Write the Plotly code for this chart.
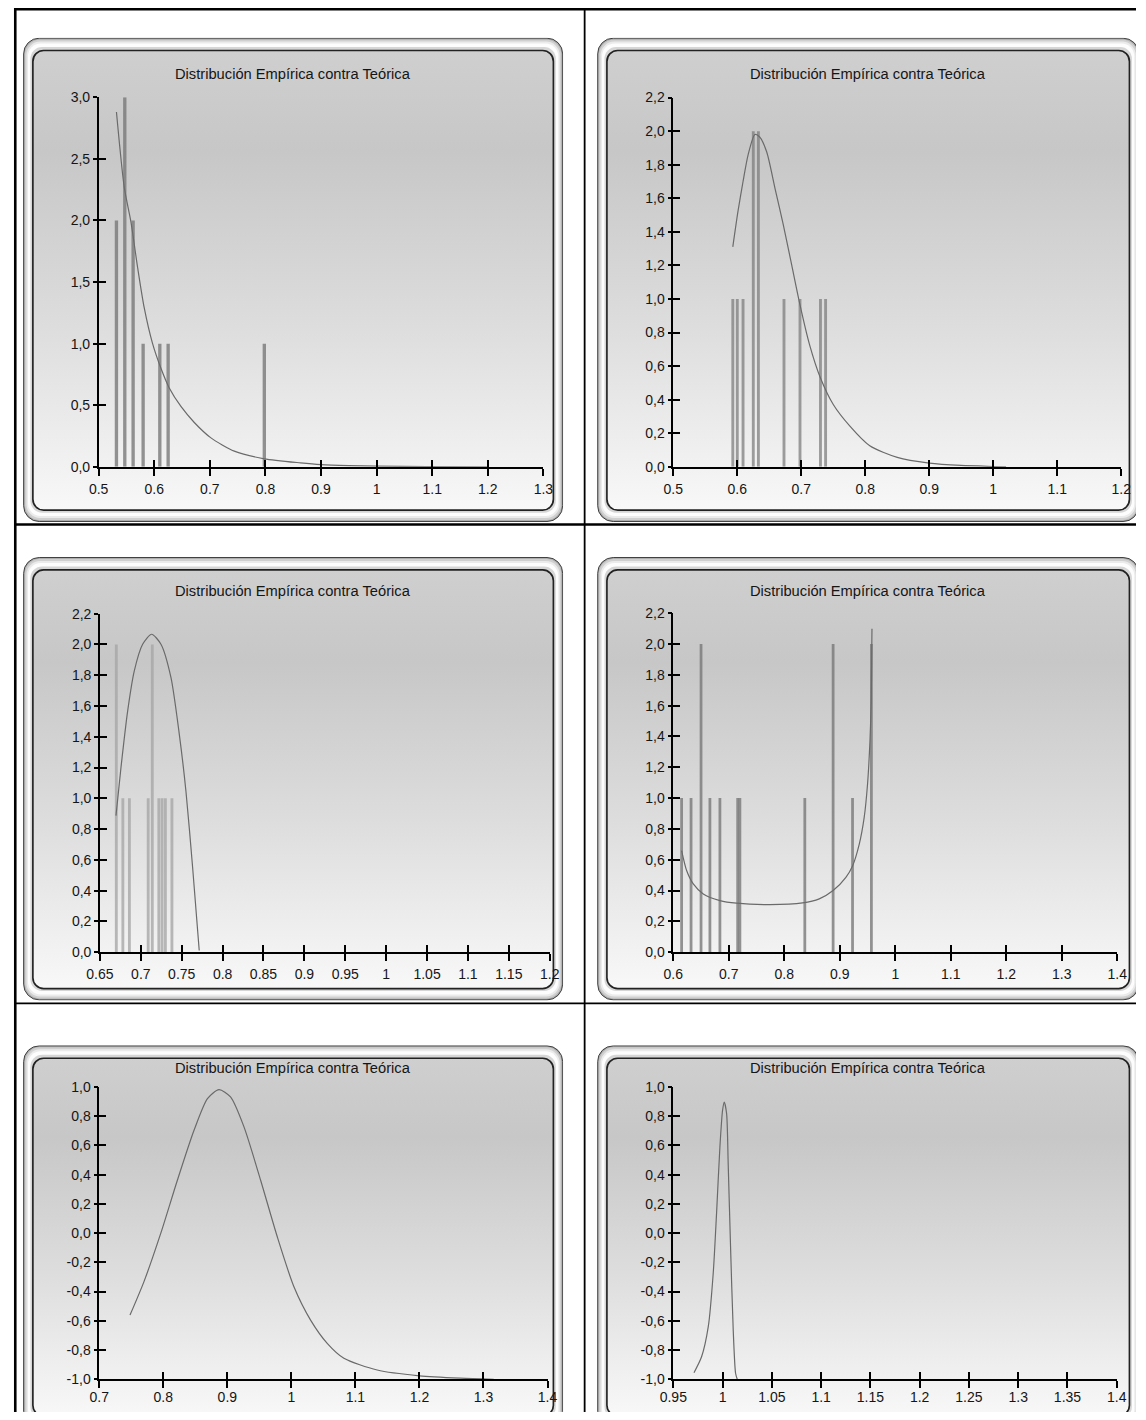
import base64
import plotly.graph_objects as go

W, H = 1146, 1420
TITLE = "Distribución Empírica contra Teórica"
FONT = "Liberation Sans, Arial, sans-serif"

# ---------------- data ----------------
# Panel 1
p1_bar_x = [0.532, 0.547, 0.562, 0.580, 0.610, 0.625, 0.798]
p1_bar_y = [2, 3, 2, 1, 1, 1, 1]
p1_cur_x = [0.532, 0.546, 0.558, 0.570, 0.582, 0.597, 0.612, 0.627, 0.648, 0.672,
            0.702, 0.744, 0.798, 0.863, 0.900, 0.950, 1.000, 1.090, 1.200]
p1_cur_y = [2.88, 2.27, 1.99, 1.62, 1.29, 1.00, 0.80, 0.64, 0.49, 0.36,
            0.235, 0.127, 0.065, 0.032, 0.018, 0.010, 0.006, 0.002, 0.0]
# Panel 2
p2_bar_x = [0.593, 0.600, 0.609, 0.625, 0.633, 0.673, 0.698, 0.730, 0.738]
p2_bar_y = [1, 1, 1, 2, 2, 1, 1, 1, 1]
p2_cur_x = [0.593, 0.601, 0.609, 0.617, 0.6275, 0.635, 0.646, 0.659, 0.672, 0.685,
            0.698, 0.713, 0.730, 0.750, 0.776, 0.807, 0.850, 0.900, 0.950, 1.000, 1.020]
p2_cur_y = [1.31, 1.52, 1.70, 1.86, 1.98, 1.965, 1.876, 1.658, 1.44, 1.203,
            0.965, 0.727, 0.529, 0.371, 0.242, 0.125, 0.056, 0.022, 0.008, 0.002, 0.0]
# Panel 3
p3_bar_x = [0.670, 0.678, 0.686, 0.709, 0.714, 0.722, 0.726, 0.730, 0.738]
p3_bar_y = [2, 1, 1, 1, 2, 1, 1, 1, 1]
p3_cur_x = [0.6696, 0.6757, 0.6839, 0.692, 0.7022, 0.7132, 0.7246, 0.7368,
            0.747, 0.7551, 0.7633, 0.7714]
p3_cur_y = [0.887, 1.20, 1.568, 1.828, 2.001, 2.066, 2.001, 1.785,
            1.417, 1.049, 0.552, 0.011]
# Panel 4
p4_bar_x = [0.615, 0.632, 0.650, 0.666, 0.684, 0.716, 0.720, 0.837, 0.888, 0.923, 0.957]
p4_bar_y = [1, 1, 2, 1, 1, 1, 1, 1, 2, 1, 2]
p4_cur_x = [0.615, 0.624, 0.636, 0.654, 0.684, 0.714, 0.774, 0.833, 0.863, 0.888,
            0.911, 0.923, 0.935, 0.944, 0.950, 0.9544, 0.9567, 0.958]
p4_cur_y = [0.659, 0.53, 0.443, 0.378, 0.335, 0.318, 0.309, 0.32, 0.346, 0.40,
            0.486, 0.56, 0.70, 0.875, 1.09, 1.37, 1.63, 2.1]
# Panel 5
p5_cur_x = [0.748, 0.770, 0.796, 0.822, 0.848, 0.869, 0.887, 0.905, 0.926, 0.952,
            0.978, 1.004, 1.030, 1.056, 1.082, 1.134, 1.200, 1.264, 1.316]
p5_cur_y = [-0.561, -0.330, -0.002, 0.362, 0.704, 0.921, 0.982, 0.932, 0.727, 0.362,
            -0.025, -0.367, -0.595, -0.754, -0.856, -0.937, -0.977, -0.993, -1.0]
# Panel 6
p6_cur_x = [0.9710, 0.9787, 0.9855, 0.9905, 0.9939, 0.9973, 1.0, 1.0017, 1.0041,
            1.0057, 1.0081, 1.0108, 1.0132, 1.0149]
p6_cur_y = [-0.955, -0.846, -0.64, -0.276, 0.135, 0.59, 0.841, 0.897, 0.818,
            0.476, -0.094, -0.663, -0.959, -1.0]

# tick values / labels
x1_ticks = [0.5, 0.6, 0.7, 0.8, 0.9, 1.0, 1.1, 1.2, 1.3]
x1_text = ["0.5", "0.6", "0.7", "0.8", "0.9", "1", "1.1", "1.2", "1.3"]
x2_ticks = [0.5, 0.6, 0.7, 0.8, 0.9, 1.0, 1.1, 1.2]
x2_text = ["0.5", "0.6", "0.7", "0.8", "0.9", "1", "1.1", "1.2"]
x3_ticks = [0.65, 0.7, 0.75, 0.8, 0.85, 0.9, 0.95, 1.0, 1.05, 1.1, 1.15, 1.2]
x3_text = ["0.65", "0.7", "0.75", "0.8", "0.85", "0.9", "0.95", "1", "1.05", "1.1", "1.15", "1.2"]
x4_ticks = [0.6, 0.7, 0.8, 0.9, 1.0, 1.1, 1.2, 1.3, 1.4]
x4_text = ["0.6", "0.7", "0.8", "0.9", "1", "1.1", "1.2", "1.3", "1.4"]
x5_ticks = [0.7, 0.8, 0.9, 1.0, 1.1, 1.2, 1.3, 1.4]
x5_text = ["0.7", "0.8", "0.9", "1", "1.1", "1.2", "1.3", "1.4"]
x6_ticks = [0.95, 1.0, 1.05, 1.1, 1.15, 1.2, 1.25, 1.3, 1.35, 1.4]
x6_text = ["0.95", "1", "1.05", "1.1", "1.15", "1.2", "1.25", "1.3", "1.35", "1.4"]

y1_ticks = [0, 0.5, 1.0, 1.5, 2.0, 2.5, 3.0]
y1_text = ["0,0", "0,5", "1,0", "1,5", "2,0", "2,5", "3,0"]
y2_ticks = [0, 0.2, 0.4, 0.6, 0.8, 1.0, 1.2, 1.4, 1.6, 1.8, 2.0, 2.2]
y2_text = ["0,0", "0,2", "0,4", "0,6", "0,8", "1,0", "1,2", "1,4", "1,6", "1,8", "2,0", "2,2"]
y5_ticks = [-1.0, -0.8, -0.6, -0.4, -0.2, 0, 0.2, 0.4, 0.6, 0.8, 1.0]
y5_text = ["-1,0", "-0,8", "-0,6", "-0,4", "-0,2", "0,0", "0,2", "0,4", "0,6", "0,8", "1,0"]

# ---------------- layout helpers ----------------
# With the page margin removed, the photographed picture maps figure pixels as
#   X_pic = 12.9 + 0.9807 * X_fig,  Y_pic = 6.3 + 0.990 * Y_fig
# so target picture positions are converted back to figure pixels.
SX, OX = 0.9807, 12.9
SY, OY = 0.9900, 6.3


def fx(X):
    return (X - OX) / SX


def fy(Y):
    return (Y - OY) / SY


def px(X):
    return fx(X) / W


def py(Y):
    return 1 - fy(Y) / H


panels = [
    dict(xd=(97.7, 543.2), yd=(95.7, 465.7), xr=(0.5, 1.3), yr=(0, 3.0),
         xt=(x1_ticks, x1_text), yt=(y1_ticks, y1_text), xso=2,
         bars=(p1_bar_x, p1_bar_y), bw=0.006, bc="rgba(118,118,118,0.78)",
         cur=(p1_cur_x, p1_cur_y), frame=(22, 36, 563, 521), ty=72),
    dict(xd=(673.3, 1122.0), yd=(96.0, 465.7), xr=(0.5, 1.2), yr=(0, 2.2),
         xt=(x2_ticks, x2_text), yt=(y2_ticks, y2_text), xso=2,
         bars=(p2_bar_x, p2_bar_y), bw=0.0045, bc="rgba(122,122,122,0.72)",
         cur=(p2_cur_x, p2_cur_y), frame=(597, 36, 1140, 521), ty=72),
    dict(xd=(99.0, 549.5), yd=(612.7, 951.7), xr=(0.65, 1.2), yr=(0, 2.2),
         xt=(x3_ticks, x3_text), yt=(y2_ticks, y2_text), xso=1,
         bars=(p3_bar_x, p3_bar_y), bw=0.0035, bc="rgba(165,165,165,0.78)",
         cur=(p3_cur_x, p3_cur_y), frame=(22, 556, 563, 1000), ty=590),
    dict(xd=(673.3, 1118.0), yd=(612.3, 951.7), xr=(0.6, 1.4), yr=(0, 2.2),
         xt=(x4_ticks, x4_text), yt=(y2_ticks, y2_text), xso=1,
         bars=(p4_bar_x, p4_bar_y), bw=0.005, bc="rgba(118,118,118,0.78)",
         cur=(p4_cur_x, p4_cur_y), frame=(597, 556, 1140, 1000), ty=590),
    dict(xd=(98.3, 547.3), yd=(1086.7, 1379.3), xr=(0.7, 1.4), yr=(-1.0, 1.0),
         xt=(x5_ticks, x5_text), yt=(y5_ticks, y5_text), xso=-3,
         bars=None, cur=(p5_cur_x, p5_cur_y), frame=(22, 1045, 563, 1428), ty=1068),
    dict(xd=(673.3, 1117.5), yd=(1086.7, 1379.3), xr=(0.95, 1.4), yr=(-1.0, 1.0),
         xt=(x6_ticks, x6_text), yt=(y5_ticks, y5_text), xso=-3,
         bars=None, cur=(p6_cur_x, p6_cur_y), frame=(597, 1045, 1140, 1428), ty=1068),
]


def panel_svg(w, h, wv, hv):
    """Rounded bevelled frame of full size w x h, cropped to the visible wv x hv."""
    svg = f'''<svg xmlns="http://www.w3.org/2000/svg" width="{wv:.1f}" height="{hv:.1f}" viewBox="0 0 {wv:.1f} {hv:.1f}" preserveAspectRatio="none">
<defs>
<linearGradient id="g" gradientUnits="userSpaceOnUse" x1="0" y1="13" x2="0" y2="{h-12:.1f}">
<stop offset="0" stop-color="#cfcfcf"/>
<stop offset="0.22" stop-color="#c7c7c7"/>
<stop offset="0.6" stop-color="#dddddd"/>
<stop offset="1" stop-color="#f8f8f8"/>
</linearGradient>
</defs>
<rect x="0.5" y="0.5" width="{w-1:.1f}" height="{h-1:.1f}" rx="16" ry="16" fill="#aeaeae" stroke="#3c3c3c" stroke-width="1"/>
<rect x="2" y="2" width="{w-4:.1f}" height="{h-4:.1f}" rx="15" ry="15" fill="#d0d0d0"/>
<rect x="3.5" y="4" width="{w-7:.1f}" height="{h-8:.1f}" rx="14" ry="14" fill="#ebebeb"/>
<rect x="5" y="6" width="{w-10:.1f}" height="{h-12:.1f}" rx="13" ry="13" fill="#fdfdfd"/>
<rect x="7.5" y="9.5" width="{w-15:.1f}" height="{h-19:.1f}" rx="12" ry="12" fill="#d6d6d6"/>
<rect x="10" y="13" width="{w-20:.1f}" height="{h-25:.1f}" rx="11" ry="11" fill="url(#g)" stroke="#222222" stroke-width="1.7"/>
</svg>'''
    return "data:image/svg+xml;base64," + base64.b64encode(svg.encode("utf-8")).decode("ascii")


fig = go.Figure()
layout = dict(
    width=W, height=H, margin=dict(l=0, r=0, t=0, b=0),
    paper_bgcolor="white", plot_bgcolor="rgba(0,0,0,0)",
    showlegend=False, font=dict(family=FONT, color="#151515"),
)
images = []
annotations = []
tickfont = dict(family=FONT, size=14, color="#151515")

for i, p in enumerate(panels, start=1):
    xa, ya = f"x{i}", f"y{i}"
    xo, yo = f"x{i+6}", f"y{i+6}"
    common = dict(showgrid=False, zeroline=False, fixedrange=True,
                  tickcolor="black", tickwidth=1.5)
    layout[f"xaxis{i}"] = dict(
        domain=[px(p["xd"][0]), px(p["xd"][1])], range=list(p["xr"]), anchor=ya,
        showline=True, linecolor="black", linewidth=1.5, ticks="outside", ticklen=7,
        tickmode="array", tickvals=p["xt"][0], ticktext=p["xt"][1], tickfont=tickfont,
        ticklabelstandoff=p["xso"], **common)
    layout[f"yaxis{i}"] = dict(
        domain=[py(p["yd"][1]), py(p["yd"][0])], range=list(p["yr"]), anchor=xa,
        showline=True, linecolor="black", linewidth=1.5, ticks="outside", ticklen=4,
        tickmode="array", tickvals=p["yt"][0], ticktext=p["yt"][1], tickfont=tickfont,
        ticklabelstandoff=0, **common)
    layout[f"xaxis{i+6}"] = dict(
        overlaying=xa, anchor=ya, range=list(p["xr"]), showline=False,
        ticks="inside", ticklen=7, tickmode="array", tickvals=p["xt"][0],
        showticklabels=False, **common)
    layout[f"yaxis{i+6}"] = dict(
        overlaying=ya, anchor=xa, side="left", range=list(p["yr"]), showline=False,
        ticks="inside", ticklen=7, tickmode="array", tickvals=p["yt"][0],
        showticklabels=False, **common)

    if p["bars"] is not None:
        fig.add_trace(go.Bar(x=p["bars"][0], y=p["bars"][1], width=p["bw"],
                             marker=dict(color=p["bc"], line=dict(width=0)),
                             xaxis=xa, yaxis=ya, hoverinfo="skip"))
    fig.add_trace(go.Scatter(x=p["cur"][0], y=p["cur"][1], mode="lines",
                             line=dict(color="#6a6a6a", width=1.2, shape="spline", smoothing=0.7),
                             xaxis=xa, yaxis=ya, hoverinfo="skip"))
    # empty traces so the tick-crossing overlay axes are created
    fig.add_trace(go.Scatter(x=[], y=[], xaxis=xo, yaxis=ya, hoverinfo="skip"))
    fig.add_trace(go.Scatter(x=[], y=[], xaxis=xa, yaxis=yo, hoverinfo="skip"))

    x0, y0, x1, y1 = p["frame"]
    fx0, fy0 = fx(x0), fy(y0)
    fw, fh = fx(x1) - fx0, fy(y1) - fy0
    wv, hv = min(fw, W - fx0), min(fh, H - fy0)
    images.append(dict(source=panel_svg(fw, fh, wv, hv), xref="paper", yref="paper",
                       x=fx0 / W, y=1 - fy0 / H, sizex=wv / W, sizey=hv / H,
                       xanchor="left", yanchor="top", sizing="stretch", layer="below"))
    annotations.append(dict(text=TITLE, xref="paper", yref="paper",
                            x=px((x0 + x1) / 2), y=py(p["ty"]), showarrow=False,
                            xanchor="center", yanchor="middle",
                            font=dict(family=FONT, size=14.7, color="#151515")))

# table grid lines (figure-pixel positions, kept inside the figure)
shapes = []


def hline(Yf, wdt):
    shapes.append(dict(type="line", xref="paper", yref="paper", x0=0, x1=1,
                       y0=1 - Yf / H, y1=1 - Yf / H, line=dict(color="black", width=wdt)))


def vline(Xf, wdt):
    shapes.append(dict(type="line", xref="paper", yref="paper", x0=Xf / W, x1=Xf / W,
                       y0=0, y1=1, line=dict(color="black", width=wdt)))


hline(1.3, 2.6)
hline(fy(523.5), 2.5)
hline(fy(1003), 1.6)
vline(1.3, 2.6)
vline(fx(584.5), 1.8)

layout["images"] = images
layout["annotations"] = annotations
layout["shapes"] = shapes
fig.update_layout(**layout)

# remove the default page margin (runs synchronously, outside the promise callback)
css_fix = ("}); "
           "document.documentElement.style.cssText='margin:0;padding:0;overflow:hidden;background:#ffffff';"
           "document.body.style.cssText='margin:0;padding:0;overflow:hidden;background:#ffffff';"
           "void(function(){")
fig.write_html("out.html", config={"displayModeBar": False}, post_script=css_fix)
